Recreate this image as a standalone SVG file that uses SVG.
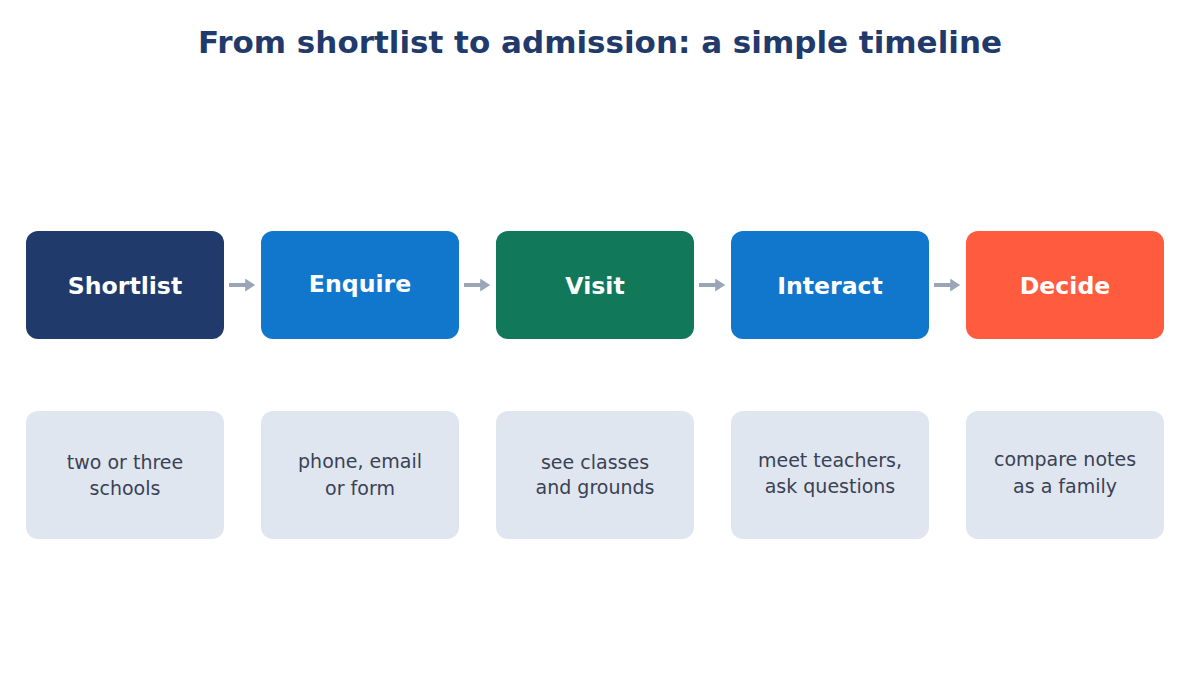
<svg xmlns="http://www.w3.org/2000/svg" width="1200" height="675" viewBox="0 0 1200 675">
<style>
.title{font-family:"DejaVu Sans",sans-serif;font-weight:bold;font-size:31px;fill:#1f3a6b;text-anchor:middle}
.lbl{font-family:"DejaVu Sans",sans-serif;font-weight:bold;font-size:23.6px;fill:#ffffff;text-anchor:middle}
.note{font-family:"DejaVu Sans",sans-serif;font-size:19px;fill:#3a4154;text-anchor:middle}
.nbox{fill:#e0e6f0}
.conn{stroke:#9aa5b8;stroke-width:4;fill:none;marker-end:url(#ah)}
</style>
<defs>
<marker id="ah" markerWidth="3" markerHeight="4" refX="0.2" refY="1.6" orient="auto" markerUnits="strokeWidth">
<path d="M0,0 L2.5,1.6 L0,3.2 Z" fill="#9aa5b8"/>
</marker>
</defs>
<rect width="1200" height="675" fill="#ffffff"/>
<text class="title" x="600" y="53">From shortlist to admission: a simple timeline</text>
<g id="connectors">
<line class="conn" x1="229" y1="285" x2="246" y2="285"/>
<line class="conn" x1="464" y1="285" x2="481" y2="285"/>
<line class="conn" x1="699" y1="285" x2="716" y2="285"/>
<line class="conn" x1="934" y1="285" x2="951" y2="285"/>
</g>
<g id="shortlist">
<rect x="26" y="231" width="198" height="108" rx="12" fill="#1f3a6b"/>
<text class="lbl" x="125" y="294">Shortlist</text>
</g>
<g id="enquire">
<rect x="261" y="231" width="198" height="108" rx="12" fill="#1177cc"/>
<text class="lbl" x="360" y="292">Enquire</text>
</g>
<g id="visit">
<rect x="496" y="231" width="198" height="108" rx="12" fill="#12785a"/>
<text class="lbl" x="595" y="294">Visit</text>
</g>
<g id="interact">
<rect x="731" y="231" width="198" height="108" rx="12" fill="#1177cc"/>
<text class="lbl" x="830" y="294">Interact</text>
</g>
<g id="decide">
<rect x="966" y="231" width="198" height="108" rx="12" fill="#ff5c3f"/>
<text class="lbl" x="1065" y="294">Decide</text>
</g>
<g id="note-shortlist">
<rect class="nbox" x="26" y="411" width="198" height="128" rx="12"/>
<text class="note" x="125" y="469">two or three</text>
<text class="note" x="125" y="495">schools</text>
</g>
<g id="note-enquire">
<rect class="nbox" x="261" y="411" width="198" height="128" rx="12"/>
<text class="note" x="360" y="468">phone, email</text>
<text class="note" x="360" y="495">or form</text>
</g>
<g id="note-visit">
<rect class="nbox" x="496" y="411" width="198" height="128" rx="12"/>
<text class="note" x="595" y="469">see classes</text>
<text class="note" x="595" y="494">and grounds</text>
</g>
<g id="note-interact">
<rect class="nbox" x="731" y="411" width="198" height="128" rx="12"/>
<text class="note" x="830" y="467">meet teachers,</text>
<text class="note" x="830" y="493">ask questions</text>
</g>
<g id="note-decide">
<rect class="nbox" x="966" y="411" width="198" height="128" rx="12"/>
<text class="note" x="1065" y="466">compare notes</text>
<text class="note" x="1065" y="493">as a family</text>
</g>
</svg>
